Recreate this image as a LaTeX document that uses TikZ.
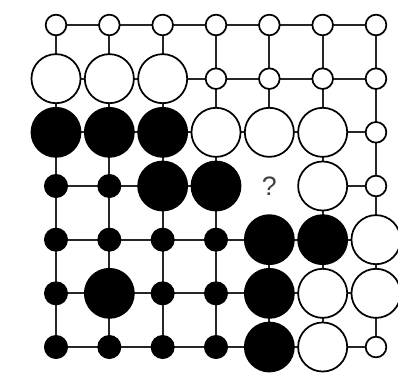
\documentclass[tikz,border=0pt]{standalone}
\usepackage{fontspec}
\setsansfont{Liberation Sans}
\begin{document}
\begin{tikzpicture}[x=0.75pt,y=-0.75pt,
  gridline/.style={line width=1.6pt,draw=black!85},
  bw/.style={circle,draw=black,line width=1.3pt,fill=white,minimum size=36.8pt,inner sep=0pt},
  bb/.style={circle,draw=black,line width=1.3pt,fill=black,minimum size=36.8pt,inner sep=0pt},
  sw/.style={circle,draw=black,line width=1.3pt,fill=white,minimum size=15.5pt,inner sep=0pt},
  sb/.style={circle,draw=black,line width=1pt,fill=black,minimum size=17pt,inner sep=0pt}]
\useasboundingbox (0,0) rectangle (398,374);
\fill[white] (0,0) rectangle (398,374);
\foreach \c in {1,...,7}{
  \foreach \r in {1,...,7}{
    \coordinate (p\c-\r) at ({56+(\c-1)*53.333},{25+(\r-1)*53.667});
  }
}
% horizontal lines
\foreach \r in {1,...,7}{
  \foreach \c [evaluate=\c as \n using int(\c+1)] in {1,...,6}{
    \pgfmathtruncatemacro\myskp{and(\r==4,or(\c==4,\c==5))}
    \ifnum\myskp=0 \draw[gridline] (p\c-\r) -- (p\n-\r); \fi
  }
}
% vertical lines
\foreach \c in {1,...,7}{
  \foreach \r [evaluate=\r as \n using int(\r+1)] in {1,...,6}{
    \pgfmathtruncatemacro\myskp{and(\c==5,or(\r==3,\r==4))}
    \ifnum\myskp=0 \draw[gridline] (p\c-\r) -- (p\c-\n); \fi
  }
}
% stones
\foreach \c/\r/\t in {
  1/1/sw,2/1/sw,3/1/sw,4/1/sw,5/1/sw,6/1/sw,7/1/sw,
  1/2/bw,2/2/bw,3/2/bw,4/2/sw,5/2/sw,6/2/sw,7/2/sw,
  1/3/bb,2/3/bb,3/3/bb,4/3/bw,5/3/bw,6/3/bw,7/3/sw,
  1/4/sb,2/4/sb,3/4/bb,4/4/bb,6/4/bw,7/4/sw,
  1/5/sb,2/5/sb,3/5/sb,4/5/sb,5/5/bb,6/5/bb,7/5/bw,
  1/6/sb,2/6/bb,3/6/sb,4/6/sb,5/6/bb,6/6/bw,7/6/bw,
  1/7/sb,2/7/sb,3/7/sb,4/7/sb,5/7/bb,6/7/bw,7/7/sw}{
  \node[\t] (s\c-\r) at (p\c-\r) {};
}
\node[font=\sffamily\fontsize{20}{22}\selectfont,text=black!75,inner sep=0pt] (q) at (p5-4) {?};
\end{tikzpicture}
\end{document}
